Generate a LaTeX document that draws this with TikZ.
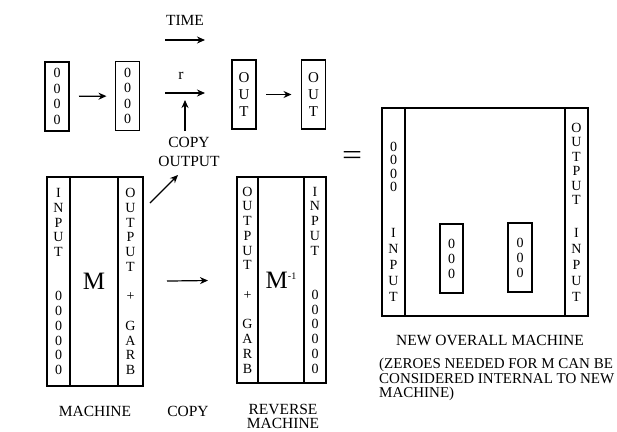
\documentclass[tikz,border=0pt]{standalone}
\usepackage{graphicx}
\usepackage{fontspec}
\setmainfont{Liberation Serif}
\usetikzlibrary{arrows.meta, positioning}

\begin{document}
\begin{tikzpicture}[x=1pt,y=-1pt,
    cell/.style={draw,line width=1.2pt,inner sep=0pt,outer sep=0pt,align=center,
                 font=\fontsize{14}{14.75}\selectfont},
    small/.style={cell,minimum width=24pt,minimum height=69pt,
                  font=\fontsize{14}{15.5}\selectfont},
    txt/.style={inner sep=0pt,align=center},
    lbl/.style={inner sep=0pt,align=center,font=\fontsize{15.5}{15.5}\selectfont},
    arr/.style={-{Stealth[length=8pt,width=7pt]},line width=1.2pt}
  ]
  \useasboundingbox (0,0) rectangle (617,431);

  % top row: registers in time
  \node[lbl] (time) at (185,20) {TIME};
  \coordinate (timea) at (165,40);
  \coordinate (timeb) at (205,40);
  \draw[arr] (timea) -- (timeb);

  \node[small] (zeroa) at (57,96.5) {0\\0\\0\\0};
  \node[small] (zerob) at (127.5,96) {0\\0\\0\\0};
  \node[small,font=\fontsize{15}{17}\selectfont] (outa) at (244,94.5) {O\\U\\T};
  \node[small,font=\fontsize{15}{17}\selectfont] (outb) at (313.5,94.5) {O\\U\\T};
  \draw[arr,shorten <=10pt,shorten >=9pt] (zeroa) -- (zerob);
  \draw[arr,shorten <=10pt,shorten >=10pt] (outa) -- (outb);

  \node[lbl] (r) at (181,76) {r};
  \coordinate (runa) at (165,93);
  \coordinate (runb) at (205,93);
  \draw[arr] (runa) -- (runb);

  \node[lbl,font=\fontsize{15.5}{19}\selectfont] (copyout) at (189,152) {COPY\\OUTPUT};
  \coordinate (rup) at (185,100);
  \draw[arr,shorten <=6pt] (copyout.north -| rup) -- (rup);

  \coordinate (diaga) at (150,203);
  \coordinate (diagb) at (178,175);
  \draw[arr] (diaga) -- (diagb);

  % machine M
  \node[cell,minimum width=23pt,minimum height=209pt] (minp) at (58.5,281.5)
    {I\\N\\P\\U\\T\\\mbox{}\\\mbox{}\\0\\0\\0\\0\\0\\0};
  \node[cell,minimum width=48pt,minimum height=209pt,font=\fontsize{25}{25}\selectfont,
        right=0pt of minp] (mmid) {M};
  \node[cell,minimum width=25pt,minimum height=209pt,right=0pt of mmid] (mout)
    {O\\U\\T\\P\\U\\T\\\mbox{}\\+\\\mbox{}\\G\\A\\R\\B};

  % reverse machine
  \node[cell,minimum width=21pt,minimum height=206pt] (rout) at (247.5,280)
    {O\\U\\T\\P\\U\\T\\\mbox{}\\+\\\mbox{}\\G\\A\\R\\B};
  \node[cell,minimum width=46pt,minimum height=206pt,font=\fontsize{25}{25}\selectfont,
        right=0pt of rout] (rmid) {M\raisebox{9pt}{\fontsize{10}{10}\selectfont -1}};
  \node[cell,minimum width=22pt,minimum height=206pt,right=0pt of rmid] (rinp)
    {I\\N\\P\\U\\T\\\mbox{}\\\mbox{}\\0\\0\\0\\0\\0\\0};

  % copy
  \draw[arr,shorten <=24pt,shorten >=29pt] (mout) -- (rout);

  \node[lbl] (machlbl) at (95,411) {MACHINE};
  \node[lbl] (copylbl) at (188,411) {COPY};
  \node[lbl,font=\fontsize{15.5}{14.5}\selectfont] (revlbl) at (283,416.5) {REVERSE\\MACHINE};

  \node[txt] (eq) at (352,158) {\resizebox{20pt}{13pt}{=}};

  % new overall machine
  \node[cell,minimum width=23pt,minimum height=208pt] (nleft) at (393.5,212) {};
  \node[cell,minimum width=160pt,minimum height=208pt,right=0pt of nleft] (nmid) {};
  \node[cell,minimum width=23pt,minimum height=208pt,right=0pt of nmid] (nright) {};
  \node[txt,font=\fontsize{14}{13.5}\selectfont] (nzero) at (nleft |- 0,167) {0\\0\\0\\0};
  \node[txt,font=\fontsize{14}{16}\selectfont] (ninl) at (nleft |- 0,264.5) {I\\N\\P\\U\\T};
  \node[txt,font=\fontsize{14}{14.5}\selectfont] (noutp) at (nright |- 0,164) {O\\U\\T\\P\\U\\T};
  \node[txt,font=\fontsize{14}{16}\selectfont] (ninr) at (nright |- 0,265) {I\\N\\P\\U\\T};
  \node[small,minimum width=23pt,font=\fontsize{14}{15}\selectfont] (anca) at (451.5,258.5) {0\\0\\0};
  \node[small,font=\fontsize{14}{15}\selectfont] (ancb) at (520,257.5) {0\\0\\0};

  \node[lbl] (newlbl) at (490,340) {NEW OVERALL MACHINE};
  \node[txt,align=left,anchor=west,font=\fontsize{15}{14.5}\selectfont] (note) at (379,379.5)
    {(ZEROES NEEDED FOR M CAN BE\\CONSIDERED INTERNAL TO NEW\\MACHINE)};
\end{tikzpicture}
\end{document}
